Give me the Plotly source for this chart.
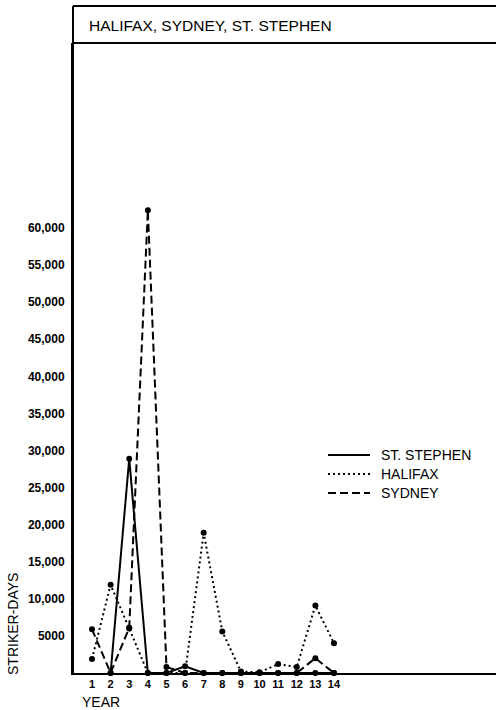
import plotly.graph_objects as go

# ---- data ----
years = list(range(1, 15))
st_stephen = [None, 0, 28900, 0, 0, 900, 0, 0, 0, 0, 0, 0, 0, 0]
halifax = [1900, 11900, 6000, 0, 0, 0, 18900, 5600, 200, 100, 1200, 800, 9100, 4000]
sydney = [5900, 0, 6100, 62400, 800, 0, 0, 0, 0, 0, 0, 0, 2000, 0]
series_names = ["ST. STEPHEN", "HALIFAX", "SYDNEY"]
y_tickvals = [5000, 10000, 15000, 20000, 25000, 30000, 35000, 40000, 45000, 50000, 55000, 60000]
y_ticktext = ["5000", "10,000", "15,000", "20,000", "25,000", "30,000", "35,000",
              "40,000", "45,000", "50,000", "55,000", "60,000"]
title_text = "HALIFAX, SYDNEY, ST. STEPHEN"
x_title = "YEAR"
y_title = "STRIKER-DAYS"

FONT = "Liberation Sans, Arial, Helvetica, sans-serif"
W, H = 496, 710
L, R, T, B = 73, 0, 43, 37
PW, PH = W - L - R, H - T - B

def px(p):  # screen pixel -> paper x
    return (p - L) / PW

def py(q):  # screen pixel -> paper y
    return (H - B - q) / PH

dashes = ["solid", "2px,3px", "8px,4px"]
data = [st_stephen, halifax, sydney]

fig = go.Figure()
for name, vals, dash in zip(series_names, data, dashes):
    fig.add_trace(go.Scatter(
        x=years, y=vals, name=name, mode="lines+markers",
        line=dict(color="black", width=2, dash=dash),
        marker=dict(color="black", size=6),
        connectgaps=False, showlegend=False, cliponaxis=False,
    ))

shapes = []
annotations = []
# title box
shapes.append(dict(type="line", xref="paper", yref="paper", x0=0, x1=1.05,
                   y0=py(6), y1=py(6), line=dict(color="black", width=2)))
shapes.append(dict(type="line", xref="paper", yref="paper", x0=0, x1=1.05,
                   y0=1, y1=1, line=dict(color="black", width=2)))
shapes.append(dict(type="line", xref="paper", yref="paper", x0=0, x1=0,
                   y0=0, y1=py(6), line=dict(color="black", width=2)))
annotations.append(dict(text=title_text, xref="paper", yref="paper", x=px(87), y=py(25),
                        xanchor="left", yanchor="middle", showarrow=False,
                        font=dict(family=FONT, size=15.5, color="black")))

# legend (manual)
leg_y = [455, 474, 493]
for name, dash, yy in zip(series_names, dashes, leg_y):
    shapes.append(dict(type="line", xref="paper", yref="paper", x0=px(328), x1=px(370),
                       y0=py(yy), y1=py(yy), line=dict(color="black", width=2, dash=dash)))
    annotations.append(dict(text=name, xref="paper", yref="paper", x=px(379), y=py(yy),
                            xanchor="left", yanchor="middle", showarrow=False,
                            font=dict(family=FONT, size=14, color="black")))

# axis titles
annotations.append(dict(text=x_title, xref="paper", yref="paper", x=px(80), y=py(702),
                        xanchor="left", yanchor="middle", showarrow=False,
                        font=dict(family=FONT, size=14, color="black")))
annotations.append(dict(text=y_title, xref="paper", yref="paper", x=px(13), y=py(624),
                        xanchor="center", yanchor="middle", showarrow=False, textangle=-90,
                        font=dict(family=FONT, size=14, color="black")))

# x=1 at screen 92, 18.615 px per year
x_per = 18.615
x_left = 1 - (92 - L) / x_per
x_right = x_left + PW / x_per

fig.update_layout(
    width=W, height=H,
    margin=dict(l=L, r=R, t=T, b=B, pad=0),
    paper_bgcolor="white", plot_bgcolor="white",
    shapes=shapes, annotations=annotations,
    showlegend=False,
    xaxis=dict(range=[x_left, x_right], tickvals=years, ticktext=[str(y) for y in years],
               showgrid=False, zeroline=False, showline=True, linecolor="black", linewidth=2,
               ticks="", tickfont=dict(family=FONT, size=11, color="black", weight="bold")),
    yaxis=dict(range=[0, 84940], tickvals=y_tickvals, ticktext=y_ticktext,
               showgrid=False, zeroline=False, showline=True, linecolor="black", linewidth=2,
               ticks="", ticklabelstandoff=4,
               tickfont=dict(family=FONT, size=12, color="black", weight="bold")),
)

fig.write_html("out.html", config={"displayModeBar": False},
               post_script="document.body.style.margin='0px';")
